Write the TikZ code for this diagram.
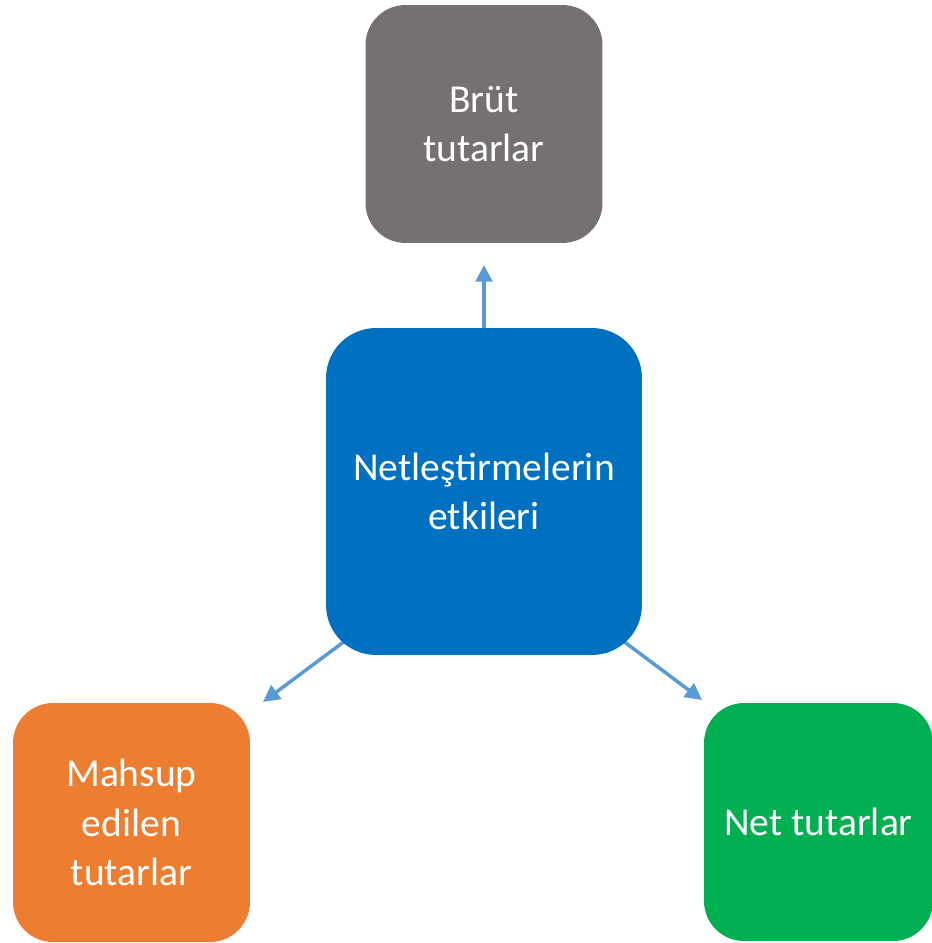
\documentclass[tikz,border=0pt]{standalone}
\usepackage{fontspec}
\setmainfont{Carlito}
\usetikzlibrary{arrows.meta,backgrounds,calc}

\definecolor{boxgrey}{HTML}{767171}
\definecolor{boxblue}{HTML}{0070C0}
\definecolor{boxorange}{HTML}{ED7D31}
\definecolor{boxgreen}{HTML}{00B050}
\definecolor{arrblue}{HTML}{5B9BD5}

\begin{document}
\begin{tikzpicture}[
  x=0.02cm, y=-0.02cm,
  font=\fontsize{22.5}{28}\selectfont,
  box/.style={
    rectangle, rounded corners=0.8cm,
    draw=none, inner sep=0pt,
    minimum width=4.74cm, minimum height=4.76cm,
    text=white, align=center
  },
  brut/.style={box, fill=boxgrey},
  hub/.style={box, fill=boxblue, rounded corners=1cm,
    minimum width=6.32cm, minimum height=6.54cm},
  mahsup/.style={box, fill=boxorange, minimum height=4.78cm},
  net/.style={box, fill=boxgreen, minimum width=4.58cm},
  arr/.style={
    -{Triangle[length=9.5pt,width=9.5pt]},
    draw=arrblue, line width=2pt
  }
]
\useasboundingbox (0,0) rectangle (932,943);

% ─── Boxes ──────────────────────────────────────────────────
\node[brut]   (brut) at (484,124)   {Brüt\\tutarlar};
\node[hub]    (hub)  at (484,491.5) {Netleştirmelerin\\etkileri};
\node[mahsup] (mah)  at (131.5,822.5) {Mahsup\\edilen\\tutarlar};
\node[net]    (net)  at (818.5,822) {Net tutarlar};

% ─── Arrow tips ─────────────────────────────────────────────
\coordinate (tipup)    at (484,265);
\coordinate (tipleft)  at (263,702);
\coordinate (tipright) at (702,700);

% ─── Arrows (hub → outer boxes) ─────────────────────────────
\begin{scope}[on background layer]
\draw[arr] (hub.north) -- (tipup);
\draw[arr] ($(tipleft)!1.6!(hub.south west)$) -- (tipleft);
\draw[arr] ($(tipright)!1.6!(hub.south east)$) -- (tipright);
\end{scope}

\end{tikzpicture}
\end{document}
